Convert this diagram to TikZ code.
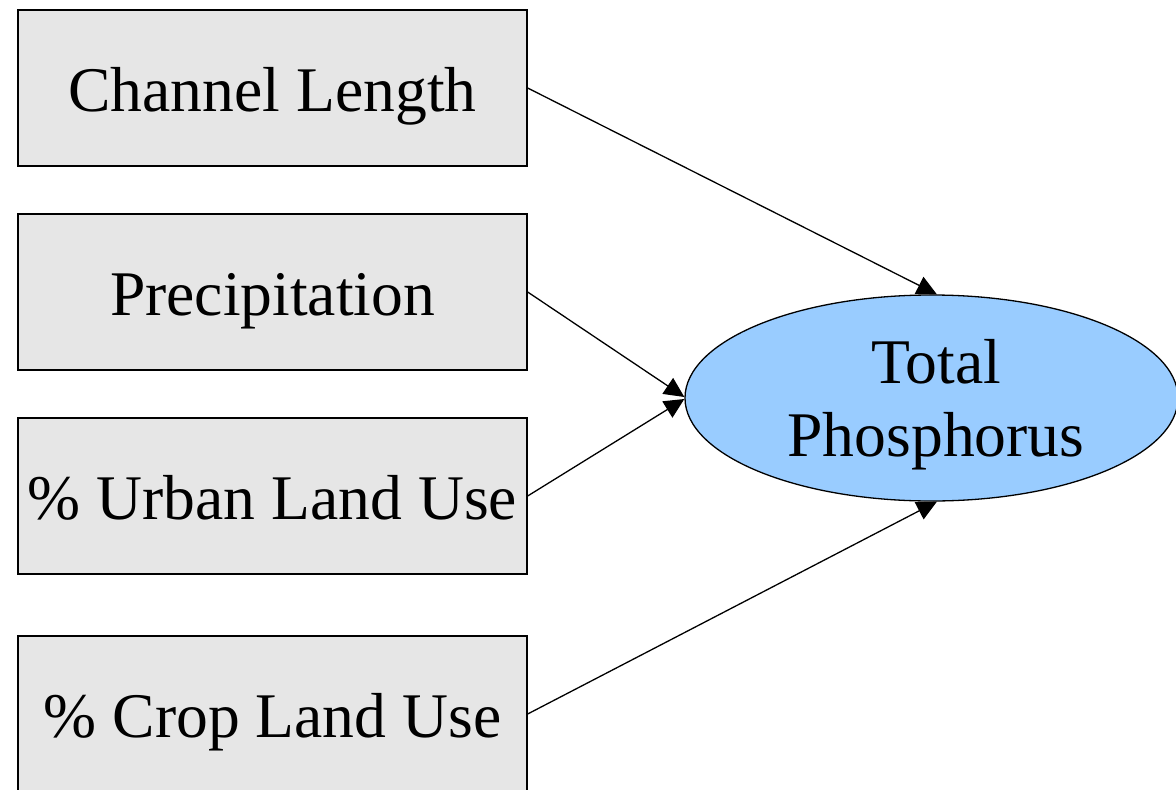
\documentclass[tikz,border=0pt]{standalone}
\usepackage{fontspec}
\setmainfont{Liberation Serif}
\usetikzlibrary{shapes.geometric,arrows.meta}
\definecolor{boxgray}{HTML}{E6E6E6}
\definecolor{ellblue}{HTML}{99CCFF}
\tikzset{
  varbox/.style={draw=black, line width=1.3pt, fill=boxgray, rectangle,
    minimum width=509pt, minimum height=156pt, inner sep=0pt,
    font=\fontsize{63.6}{73}\selectfont, text height=46pt, text depth=0pt},
  tpell/.style={draw=black, line width=1.3pt, fill=ellblue, ellipse,
    minimum width=493pt, minimum height=206pt, inner sep=0pt},
  tptextstyle/.style={align=center, inner sep=0pt, font=\fontsize{63.6}{73}\selectfont},
  conn/.style={draw=black, line width=1.3pt, -{Triangle[length=20pt,width=19pt]}}
}
\begin{document}
\begin{tikzpicture}[x=1pt,y=-1pt]
\useasboundingbox (0,0) rectangle (1176,790);
\clip (0,0) rectangle (1176,790);
\node[varbox] (cl) at (272.5,88) {Channel Length};
\node[varbox] (pr) at (272.5,292) {Precipitation};
\node[varbox] (ur) at (272.5,496) {\% Urban Land Use};
\node[varbox] (cr) at (272.5,714) {\% Crop Land Use};
\node[tpell] (tp) at (931.5,398) {};
\node[tptextstyle] (tpt) at (936,405) {Total\\Phosphorus};
\draw[conn] (cl.east) -- (tp.87);
\draw[conn] (pr.east) -- ([yshift=1pt]tp.west);
\draw[conn] (ur.east) -- ([yshift=-1pt]tp.west);
\draw[conn] (cr.east) -- (tp.-87);
\end{tikzpicture}
\end{document}
